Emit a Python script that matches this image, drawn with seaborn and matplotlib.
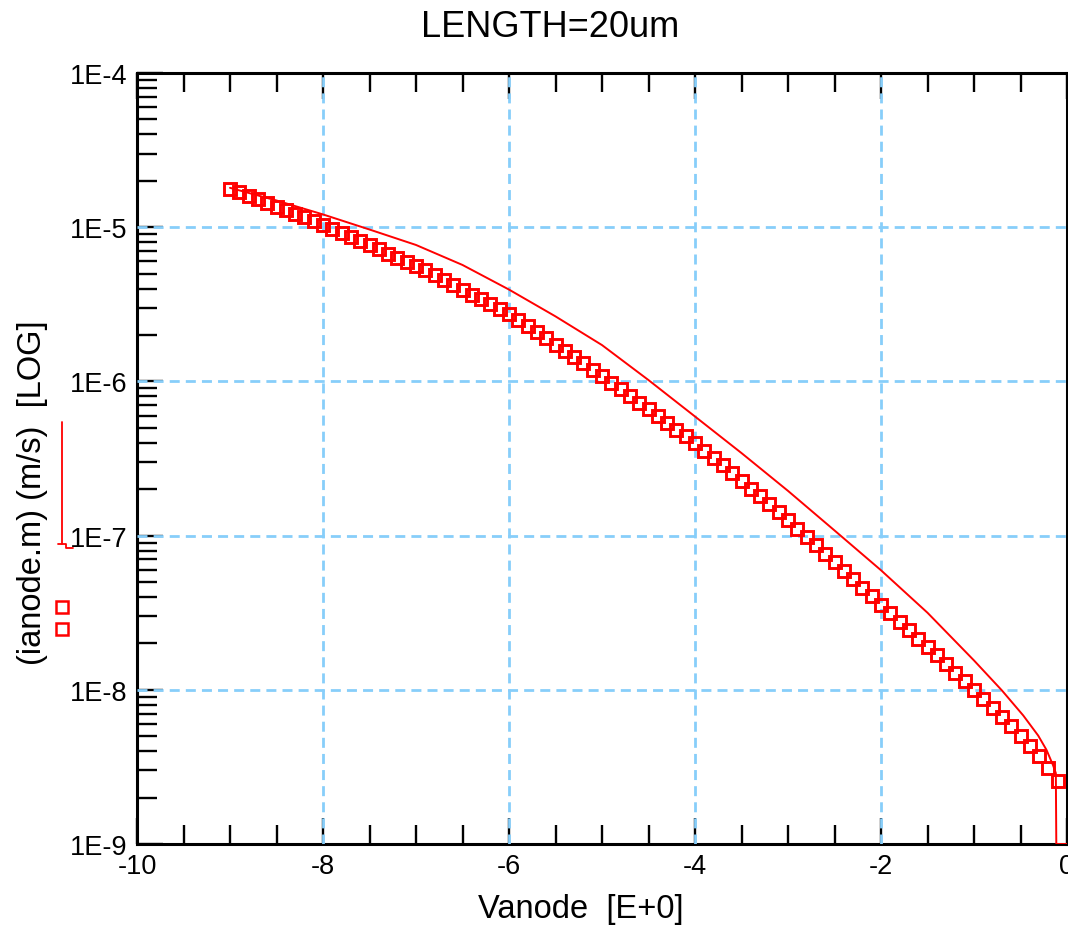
import numpy as np
import pandas as pd
import matplotlib
matplotlib.use("Agg")
import matplotlib.pyplot as plt
from matplotlib.lines import Line2D
from matplotlib.ticker import FixedLocator, FixedFormatter, LogLocator, NullFormatter, MultipleLocator
import seaborn as sns

# ---------------- data ----------------
title_text = "LENGTH=20um"
x_label = "Vanode  [E+0]"
y_label = "(ianode.m) (m/s)  [LOG]"

x_ticks = [-10, -8, -6, -4, -2, 0]
x_tick_labels = ["-10", "-8", "-6", "-4", "-2", "0"]
y_ticks = [1e-9, 1e-8, 1e-7, 1e-6, 1e-5, 1e-4]
y_tick_labels = ["1E-9", "1E-8", "1E-7", "1E-6", "1E-5", "1E-4"]

# square-marker series
marker_vanode = [
    -9.0, -8.9, -8.8, -8.7, -8.6, -8.5, -8.4, -8.3, -8.2, -8.1,
    -8.0, -7.9, -7.8, -7.7, -7.6, -7.5, -7.4, -7.3, -7.2, -7.1,
    -7.0, -6.9, -6.8, -6.7, -6.6, -6.5, -6.4, -6.3, -6.2, -6.1,
    -6.0, -5.9, -5.8, -5.7, -5.6, -5.5, -5.4, -5.3, -5.2, -5.1,
    -5.0, -4.9, -4.8, -4.7, -4.6, -4.5, -4.4, -4.3, -4.2, -4.1,
    -4.0, -3.9, -3.8, -3.7, -3.6, -3.5, -3.4, -3.3, -3.2, -3.1,
    -3.0, -2.9, -2.8, -2.7, -2.6, -2.5, -2.4, -2.3, -2.2, -2.1,
    -2.0, -1.9, -1.8, -1.7, -1.6, -1.5, -1.4, -1.3, -1.2, -1.1,
    -1.0, -0.9, -0.8, -0.7, -0.6, -0.5, -0.4, -0.3, -0.2, -0.1,
]
marker_ianode = [
    1.78e-5, 1.69e-5, 1.60e-5, 1.52e-5, 1.44e-5, 1.36e-5, 1.29e-5, 1.22e-5, 1.16e-5, 1.09e-5,
    1.035e-5, 9.75e-6, 9.16e-6, 8.63e-6, 8.11e-6, 7.64e-6, 7.18e-6, 6.75e-6, 6.35e-6, 5.97e-6,
    5.62e-6, 5.25e-6, 4.90e-6, 4.56e-6, 4.25e-6, 3.94e-6, 3.66e-6, 3.40e-6, 3.16e-6, 2.94e-6,
    2.72e-6, 2.49e-6, 2.28e-6, 2.08e-6, 1.90e-6, 1.73e-6, 1.58e-6, 1.44e-6, 1.31e-6, 1.19e-6,
    1.08e-6, 9.82e-7, 8.89e-7, 8.05e-7, 7.28e-7, 6.58e-7, 5.94e-7, 5.37e-7, 4.85e-7, 4.40e-7,
    3.98e-7, 3.56e-7, 3.19e-7, 2.85e-7, 2.55e-7, 2.27e-7, 2.02e-7, 1.80e-7, 1.60e-7, 1.42e-7,
    1.26e-7, 1.11e-7, 9.82e-8, 8.65e-8, 7.62e-8, 6.71e-8, 5.92e-8, 5.21e-8, 4.59e-8, 4.04e-8,
    3.55e-8, 3.13e-8, 2.77e-8, 2.44e-8, 2.15e-8, 1.89e-8, 1.67e-8, 1.47e-8, 1.29e-8, 1.14e-8,
    1.00e-8, 8.75e-9, 7.66e-9, 6.68e-9, 5.81e-9, 5.02e-9, 4.34e-9, 3.72e-9, 3.10e-9, 2.57e-9,
]

# thin-line series
line_vanode = [-9.0, -8.5, -8.0, -7.5, -7.0, -6.5, -6.0, -5.5, -5.0, -4.5,
               -4.0, -3.5, -3.0, -2.5, -2.0, -1.5, -1.0, -0.7, -0.47, -0.31,
               -0.22, -0.15, -0.12, -0.115, 0.0]
line_ianode = [1.80e-5, 1.49e-5, 1.21e-5, 9.66e-6, 7.67e-6, 5.69e-6, 3.94e-6, 2.64e-6, 1.72e-6, 1.02e-6,
               5.92e-7, 3.43e-7, 1.95e-7, 1.08e-7, 5.96e-8, 3.16e-8, 1.55e-8, 9.91e-9, 6.81e-9, 5.05e-9,
               4.07e-9, 3.24e-9, 2.88e-9, 1.0e-9, 1.0e-9]

marker_df = pd.DataFrame({"Vanode": marker_vanode, "ianode": marker_ianode})
line_df = pd.DataFrame({"Vanode": line_vanode, "ianode": line_ianode})

# ---------------- style ----------------
sns.set_style("white")
plt.rcParams["font.family"] = ["Liberation Sans", "DejaVu Sans"]
plt.rcParams["text.color"] = "black"
plt.rcParams["axes.labelcolor"] = "black"
plt.rcParams["xtick.color"] = "black"
plt.rcParams["ytick.color"] = "black"

RED = "#ff0000"
GRID = "#87cefa"
W, H = 1068, 928

fig = plt.figure(figsize=(W / 100, H / 100), dpi=100)
ax = fig.add_axes([137 / W, (H - 845) / H, (1067 - 137) / W, (845 - 74) / H])
ax.set_yscale("log")
ax.set_xlim(x_ticks[0], x_ticks[-1])
ax.set_ylim(y_ticks[0], y_ticks[-1])

# grid drawn above the axis ticks, below the data
for xv in x_ticks[1:-1]:
    ax.axvline(xv, color=GRID, lw=2.0, linestyle=(0, (3.6, 2.2)), zorder=3)
for yv in y_ticks[1:-1]:
    ax.axhline(yv, color=GRID, lw=2.0, linestyle=(0, (3.6, 2.2)), zorder=3)

sns.lineplot(data=line_df, x="Vanode", y="ianode", ax=ax, color=RED, lw=1.4,
             estimator=None, sort=False, zorder=4)
sns.lineplot(data=marker_df, x="Vanode", y="ianode", ax=ax, estimator=None, sort=False,
             linestyle="none", marker="s", markersize=8.6, markerfacecolor="none",
             markeredgecolor=RED, markeredgewidth=2.1, color=RED, zorder=5)

ax.xaxis.set_major_locator(FixedLocator(x_ticks))
ax.xaxis.set_major_formatter(FixedFormatter(x_tick_labels))
ax.xaxis.set_minor_locator(MultipleLocator(0.5))
ax.yaxis.set_major_locator(FixedLocator(y_ticks))
ax.yaxis.set_major_formatter(FixedFormatter(y_tick_labels))
ax.yaxis.set_minor_locator(LogLocator(base=10, subs=[2, 3, 4, 5, 6, 7, 8, 9], numticks=30))
ax.yaxis.set_minor_formatter(NullFormatter())

ax.tick_params(axis="both", which="both", direction="in", color="black", labelcolor="black", width=1.7)
ax.tick_params(axis="both", which="major", length=19, labelsize=19.5)
ax.tick_params(axis="x", which="minor", length=13.5)
ax.tick_params(axis="y", which="minor", length=14.5)
ax.tick_params(axis="x", which="both", top=True, bottom=True, pad=6.5)
ax.tick_params(axis="y", which="both", left=True, right=False, pad=7)

for sp in ax.spines.values():
    sp.set_color("black")
    sp.set_linewidth(2.2)
    sp.set_visible(True)

ax.set_xlabel("")
ax.set_ylabel("")

# texts
fig.text(550 / W, (H - 37) / H, title_text, ha="center", va="baseline", fontsize=26, color="black")
fig.text(581 / W, (H - 918) / H, x_label, ha="center", va="baseline", fontsize=23.5, color="black")
fig.text(33 / W, (H - 493) / H, y_label, ha="center", va="center", rotation=90, fontsize=23.5,
         color="black")

# legend glyphs (left side, as in the original tool)
def fx(px):
    return px / W

def fy(py):
    return (H - py) / H

fig.add_artist(Line2D([fx(62), fx(62)], [fy(423), fy(545)], color=RED, lw=1.3,
                      transform=fig.transFigure))
fig.add_artist(Line2D([fx(58), fx(66), fx(66), fx(73)], [fy(545), fy(545), fy(549), fy(549)],
                      color=RED, lw=1.3, transform=fig.transFigure))
fig.add_artist(Line2D([fx(62), fx(62)], [fy(608), fy(630)], linestyle="none", marker="s",
                      markersize=8.2, markerfacecolor="none", markeredgecolor=RED,
                      markeredgewidth=1.8, transform=fig.transFigure))

fig.savefig("out.png", dpi=100, facecolor="white")
